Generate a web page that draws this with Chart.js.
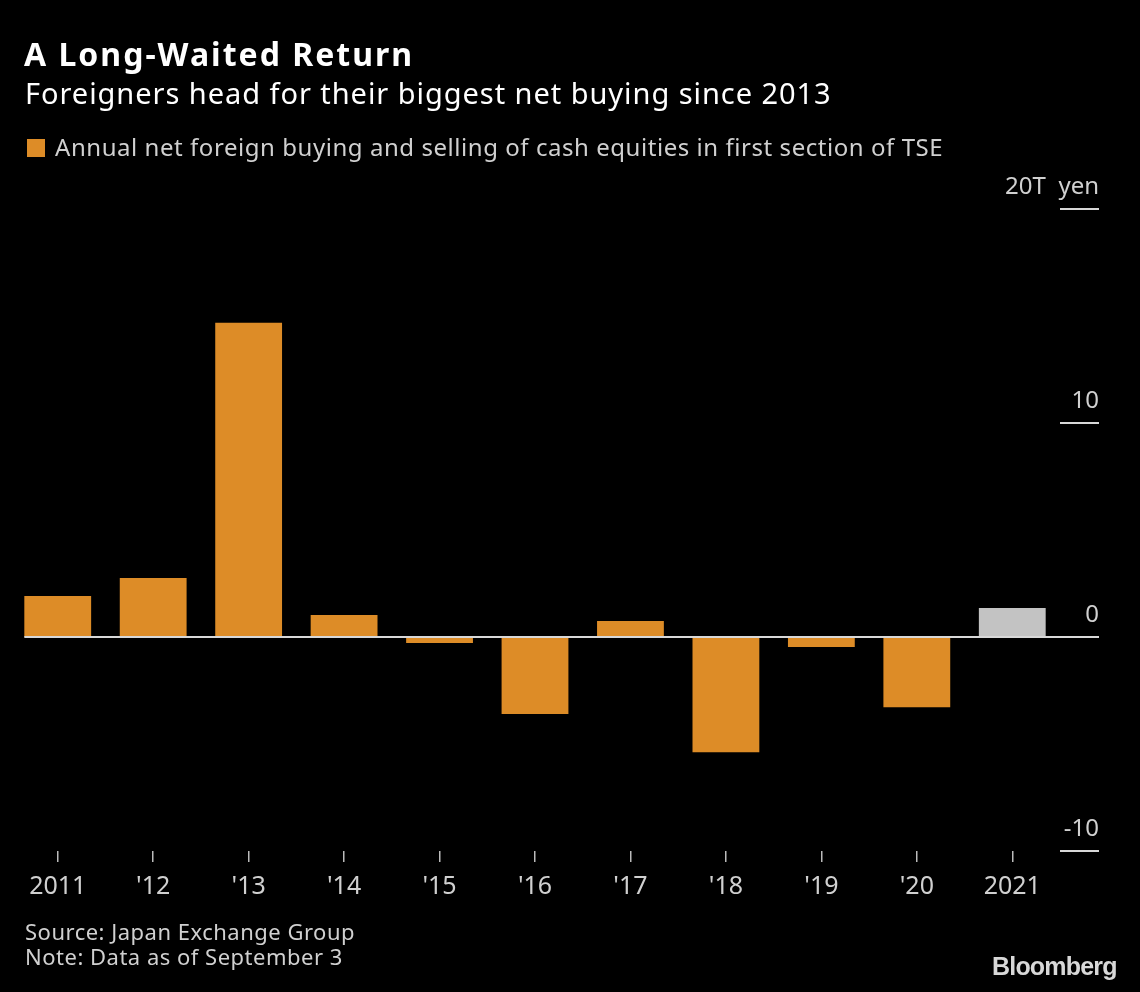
<!DOCTYPE html>
<html>
<head>
<meta charset="utf-8">
<script src="https://cdn.jsdelivr.net/npm/chart.js"></script>
<style>
  body { margin: 0; background: #000; width: 1140px; height: 992px; overflow: hidden; font-family: "Noto Sans", sans-serif; }
  #wrap { position: relative; width: 1140px; height: 992px; }
  #chart { position: absolute; left: 0; top: 0; }
  .txt { position: absolute; white-space: nowrap; }
  #title { left: 24px; top: 32px; font-size: 32px; font-weight: bold; color: #fff; letter-spacing: 2px; }
  #subtitle { left: 25px; top: 73px; font-size: 29px; color: #fff; letter-spacing: 0.95px; }
  #legendBox { left: 27px; top: 139px; width: 18px; height: 18px; background: #dd8c27; }
  #legend { left: 55px; top: 130px; font-size: 24px; color: #d0d0d0; letter-spacing: 0.55px; }
  #source { left: 25px; top: 919px; font-size: 22px; color: #d0d0d0; line-height: 25px; letter-spacing: 0.5px; }
  #logo { left: 992px; top: 952px; font-size: 25px; font-weight: bold; color: #d8d8d8; font-family: "Liberation Sans", Arial, sans-serif; letter-spacing: -0.8px; }
</style>
</head>
<body>
<div id="wrap">
  <canvas id="chart" width="1140" height="992"></canvas>
  <div class="txt" id="title">A Long-Waited Return</div>
  <div class="txt" id="subtitle">Foreigners head for their biggest net buying since 2013</div>
  <div class="txt" id="legendBox"></div>
  <div class="txt" id="legend">Annual net foreign buying and selling of cash equities in first section of TSE</div>
  <div class="txt" id="source">Source: Japan Exchange Group<br>Note: Data as of September 3</div>
  <div class="txt" id="logo">Bloomberg</div>
</div>
<script>
var years = ["2011", "'12", "'13", "'14", "'15", "'16", "'17", "'18", "'19", "'20", "2021"];
var netBuying = [1.92, 2.76, 14.69, 1.03, -0.28, -3.6, 0.75, -5.38, -0.47, -3.28, 1.36];
var yTicks = [20, 10, 0, -10];
var yTickLabels = ["20T  yen", "10", "0", "-10"];

var orange = '#dd8c27';
var grey = '#c3c3c3';
var barColors = years.map(function (y, i) { return i == years.length - 1 ? grey : orange; });

// draws the right side ticks + labels and the zero line
var axisPlugin = {
    id: 'rightAxis',
    afterDatasetsDraw: function (chart) {
        var ctx = chart.ctx;
        var y = chart.scales.y;
        var area = chart.chartArea;
        var first = chart.getDatasetMeta(0).data[0];
        var left = first.x - first.width / 2;
        var right = area.right + 39;
        ctx.save();
        ctx.strokeStyle = '#d8d8d8';
        ctx.lineWidth = 2;
        ctx.fillStyle = '#d0d0d0';
        ctx.font = '24px "Noto Sans"';
        ctx.textAlign = 'right';
        ctx.textBaseline = 'alphabetic';
        yTicks.forEach(function (v, i) {
            var py = Math.round(y.getPixelForValue(v));
            ctx.beginPath();
            ctx.moveTo(v == 0 ? left : area.right, py);
            ctx.lineTo(right, py);
            ctx.stroke();
            ctx.fillText(yTickLabels[i], right, py - 15);
        });
        ctx.restore();
    }
};

new Chart(document.getElementById('chart'), {
    type: 'bar',
    data: {
        labels: years,
        datasets: [{
            data: netBuying,
            backgroundColor: barColors,
            borderWidth: 0,
            categoryPercentage: 1,
            barPercentage: 0.7
        }]
    },
    options: {
        responsive: false,
        animation: false,
        layout: { padding: { left: 10, right: 80, top: 209, bottom: 81 } },
        plugins: { legend: { display: false }, tooltip: { enabled: false } },
        scales: {
            x: {
                grid: { display: true, offset: false, drawOnChartArea: false, tickLength: 11, color: '#bbb', lineWidth: 1.5 },
                border: { display: false },
                ticks: { color: '#d0d0d0', font: { family: 'Noto Sans', size: 25 }, padding: 10, maxRotation: 0 },
                afterFit: function (s) { s.height = 60; }
            },
            y: {
                display: false,
                min: -10,
                max: 20
            }
        }
    },
    plugins: [axisPlugin]
});
</script>
</body>
</html>
